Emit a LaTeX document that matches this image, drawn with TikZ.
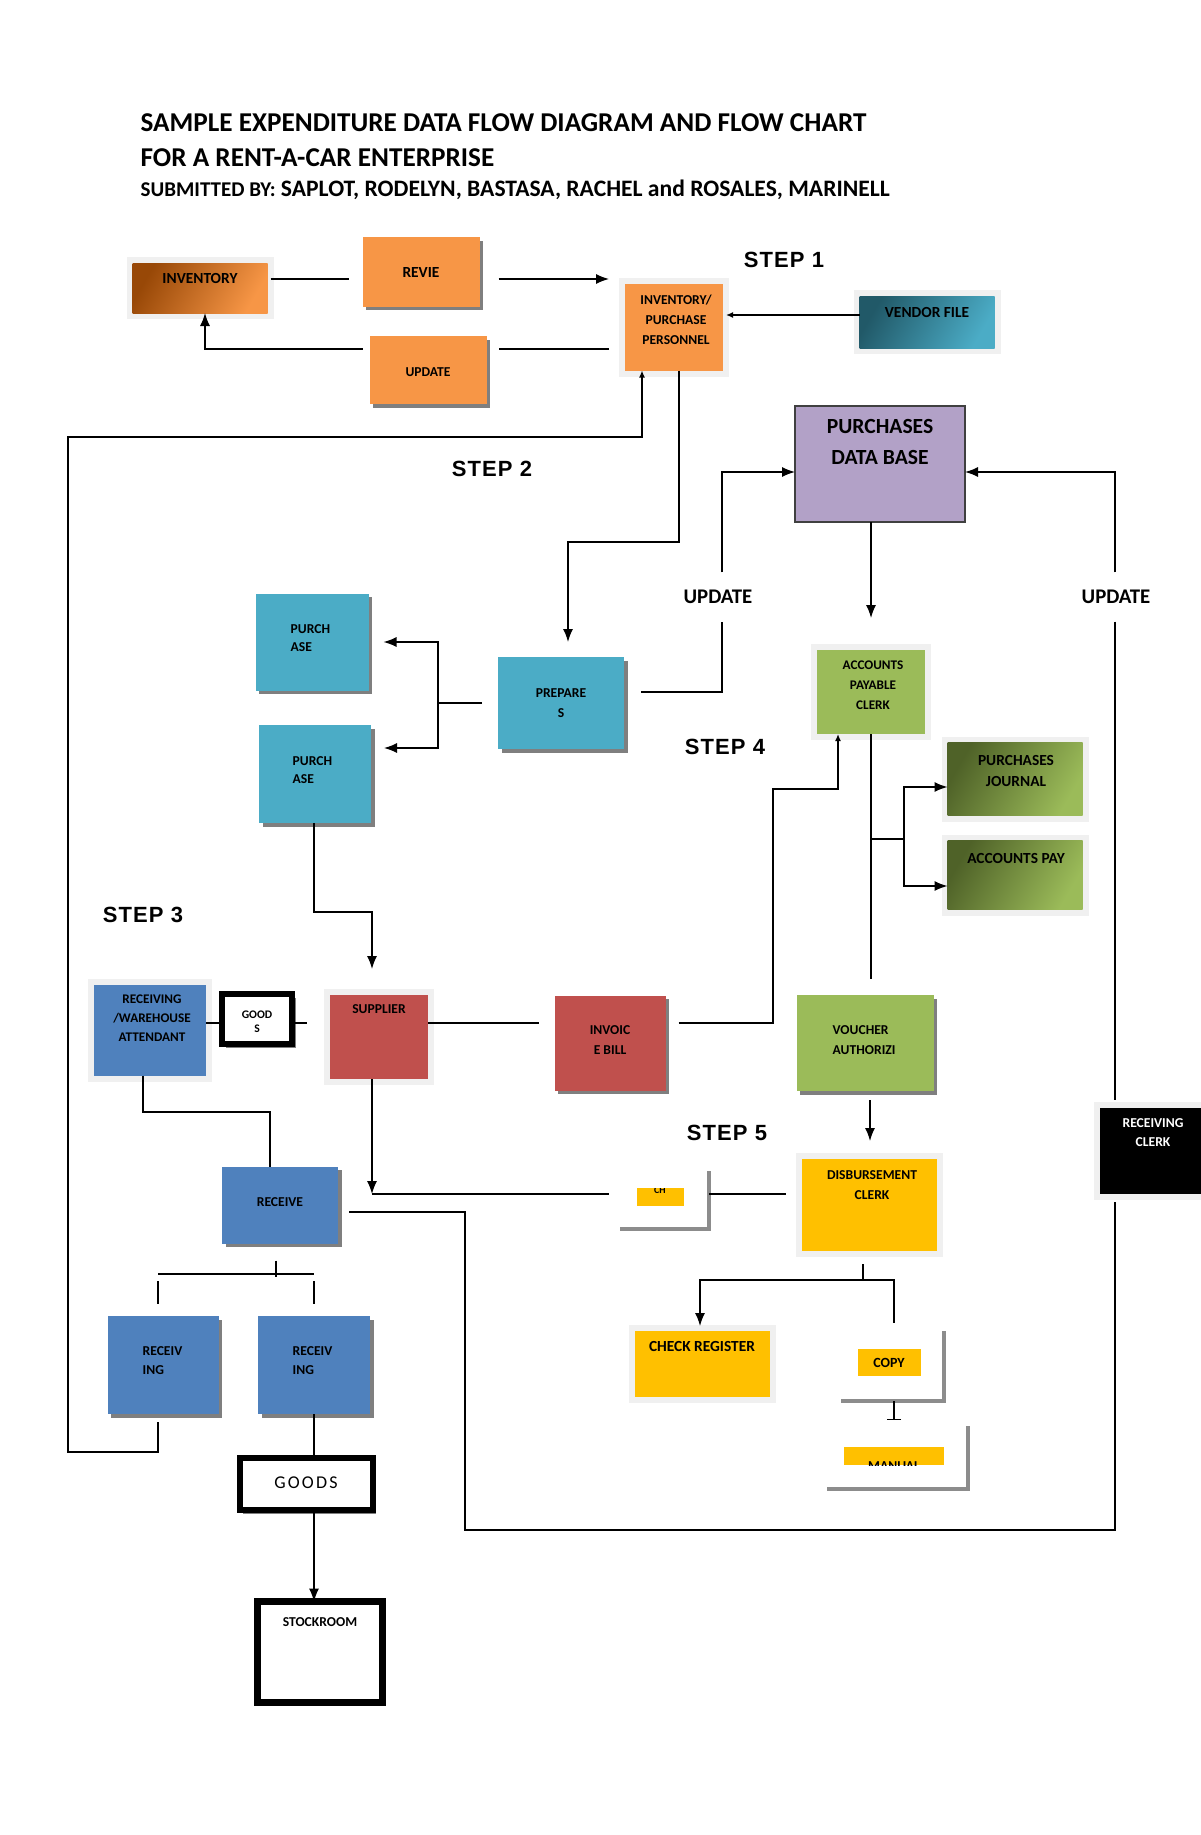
\documentclass[tikz,border=0pt]{standalone}
\usepackage{fontspec}
\setmainfont{Carlito}
\newfontfamily\stepfont[LetterSpace=5]{Liberation Sans}
\newfontfamily\spacedfont[LetterSpace=12]{Carlito}
\usetikzlibrary{shadows,arrows.meta}

\definecolor{orng}{HTML}{F79646}
\definecolor{brwn}{HTML}{984807}
\definecolor{tealb}{HTML}{4BACC6}
\definecolor{tealdk}{HTML}{215968}
\definecolor{purp}{HTML}{B2A1C7}
\definecolor{grn}{HTML}{9BBB59}
\definecolor{grndk}{HTML}{4F6228}
\definecolor{redb}{HTML}{C0504D}
\definecolor{blueb}{HTML}{4F81BD}
\definecolor{yel}{HTML}{FFC000}
\definecolor{shadowgrey}{HTML}{7F7F7F}
\definecolor{framegrey}{HTML}{F0F0F0}
\definecolor{lgrey}{HTML}{8C8C8C}

\begin{document}
\begin{tikzpicture}[
x=0.5pt, y=-0.5pt,
line width=0.7pt,
wh/.style 2 args={minimum width=#1*0.5pt, minimum height=#2*0.5pt},
bx/.style={rectangle, inner sep=0pt, outer sep=0pt},
dshade/.style={drop shadow={shadow xshift=1.8pt, shadow yshift=-1.8pt, fill=shadowgrey, opacity=1}},
framed/.style={preaction={draw=framegrey, line width=6pt}},
heavy/.style={draw=black, line width=2.6pt, fill=white},
txt/.style={inner sep=0pt, align=center, font=\bfseries\fontsize{6.8}{10}\selectfont},
bigtxt/.style={txt, font=\bfseries\fontsize{7.7}{10.5}\selectfont},
titletxt/.style={anchor=base west, inner sep=0pt, font=\bfseries\fontsize{13.6}{16}\selectfont},
steplbl/.style={inner sep=0pt, font=\stepfont\bfseries\fontsize{11}{13}\selectfont},
updlbl/.style={inner sep=0pt, minimum height=24pt, font=\bfseries\fontsize{10.4}{12}\selectfont},
arrowed/.style={-{Latex[length=6.5pt,width=5pt]}},
smallarrow/.style={-{Latex[length=3.5pt,width=3pt]}},
greyL/.style={draw=lgrey, line width=1.8pt}
]
\path[use as bounding box, fill=white] (0,0) rectangle (1200,1835);

% title
\node[titletxt] (title1) at (140,132) {SAMPLE EXPENDITURE DATA FLOW DIAGRAM AND FLOW CHART};
\node[titletxt] (title2) at (140,167) {FOR A RENT-A-CAR ENTERPRISE};
\node[titletxt, font=\bfseries\fontsize{11.8}{16}\selectfont] (title3) at (140,197)
  {{\fontsize{10.5}{12}\selectfont SUBMITTED BY:} SAPLOT, RODELYN, BASTASA, RACHEL and ROSALES, MARINELL};

% step 1
\node[steplbl] (step1) at (784,260) {STEP 1};
\node[bx, wh={135}{50}, framed, top color=brwn, bottom color=orng, shading angle=60] (inv) at (200,288) {};
\node[bigtxt] (invT) at (200,279) {INVENTORY};
\node[bx, wh={117}{69}, fill=orng, dshade] (revie) at (421,272) {};
\node[bigtxt] (revieT) at (421,273) {REVIE};
\node[bx, wh={117}{68}, fill=orng, dshade] (upd) at (428,370) {};
\node[txt] (updT) at (428,372) {UPDATE};
\node[bx, wh={98}{87}, fill=orng, framed] (pers) at (674,327) {};
\node[txt] (persT) at (676,320) {INVENTORY/\\PURCHASE\\PERSONNEL};
\node[bx, wh={135}{52}, framed, top color=tealdk, bottom color=tealb, shading angle=60] (vend) at (927,322) {};
\node[bigtxt] (vendT) at (927,313) {VENDOR FILE};

% step 2
\node[steplbl] (step2) at (492,469) {STEP 2};
\node[bx, wh={170}{116}, fill=purp, draw=black!75, line width=1pt] (pdb) at (880,464) {};
\node[txt, font=\bfseries\fontsize{10.8}{15.5}\selectfont] (pdbT) at (880,442) {PURCHASES\\DATA BASE};
\node[bx, wh={126}{92}, fill=tealb, dshade] (prep) at (561,703) {};
\node[txt] (prepT) at (561,703) {PREPARE\\S};
\node[bx, wh={113}{97}, fill=tealb, dshade] (pur1) at (312,642) {};
\node[txt, align=left, anchor=west, font=\bfseries\fontsize{6.8}{9}\selectfont] (pur1T) at (290,638) {PURCH\\ASE};
\node[bx, wh={112}{98}, fill=tealb, dshade] (pur2) at (315,774) {};
\node[txt, align=left, anchor=west, font=\bfseries\fontsize{6.8}{9}\selectfont] (pur2T) at (292,770) {PURCH\\ASE};
\node[updlbl] (updl) at (718,597) {UPDATE};
\node[updlbl] (updr) at (1116,597) {UPDATE};

% step 3
\node[steplbl] (step3) at (143,915) {STEP 3};
\node[bx, wh={112}{91}, fill=blueb, framed] (rwa) at (150,1030) {};
\node[txt, font=\bfseries\fontsize{6.6}{9.5}\selectfont] (rwaT) at (152,1018) {RECEIVING\\/WAREHOUSE\\ATTENDANT};
\node[bx, wh={70}{50}, heavy, dshade] (goods1) at (257,1019) {};
\node[txt, font=\bfseries\fontsize{5.8}{7}\selectfont] (goods1T) at (257,1022) {GOOD\\S};
\node[bx, wh={98}{84}, fill=redb, framed] (sup) at (379,1037) {};
\node[txt] (supT) at (379,1009) {SUPPLIER};
\node[bx, wh={111}{95}, fill=redb, dshade] (invb) at (610,1043) {};
\node[txt] (invbT) at (610,1040) {INVOIC\\E BILL};
\node[bx, wh={116}{77}, fill=blueb, dshade] (rec) at (280,1205) {};
\node[txt] (recT) at (280,1202) {RECEIVE};
\node[bx, wh={111}{98}, fill=blueb, dshade] (rcv1) at (163,1365) {};
\node[txt, align=left, anchor=west, font=\bfseries\fontsize{6.8}{9.5}\selectfont] (rcv1T) at (142,1361) {RECEIV\\ING};
\node[bx, wh={112}{98}, fill=blueb, dshade] (rcv2) at (314,1365) {};
\node[txt, align=left, anchor=west, font=\bfseries\fontsize{6.8}{9.5}\selectfont] (rcv2T) at (292,1361) {RECEIV\\ING};
\node[bx, wh={133}{52}, heavy, line width=3pt, dshade] (goods) at (306,1484) {};
\node[inner sep=0pt, font=\spacedfont\fontsize{9}{11}\selectfont] (goodsT) at (306,1483) {GOODS};
\node[bx, wh={125}{101}, heavy, line width=3.2pt] (stock) at (320,1652) {};
\node[txt] (stockT) at (320,1622) {STOCKROOM};

% step 4
\node[steplbl] (step4) at (725,747) {STEP 4};
\node[bx, wh={108}{84}, fill=grn, framed] (apc) at (871,692) {};
\node[txt, font=\bfseries\fontsize{6.6}{10}\selectfont] (apcT) at (873,685) {ACCOUNTS\\PAYABLE\\CLERK};
\node[bx, wh={135}{73}, framed, top color=grndk, bottom color=grn, shading angle=60] (pj) at (1015,779) {};
\node[bigtxt] (pjT) at (1016,771) {PURCHASES\\JOURNAL};
\node[bx, wh={135}{69}, framed, top color=grndk, bottom color=grn, shading angle=60] (ap) at (1015,875) {};
\node[bigtxt] (apT) at (1016,858) {ACCOUNTS PAY};
\node[bx, wh={137}{96}, fill=grn, dshade] (vou) at (865,1043) {};
\node[txt, align=left, anchor=west] (vouT) at (832,1040) {VOUCHER\\AUTHORIZI};

% step 5
\node[steplbl] (step5) at (727,1133) {STEP 5};
\node[bx, wh={135}{92}, fill=yel, framed] (disb) at (869,1205) {};
\node[txt] (disbT) at (872,1185) {DISBURSEMENT\\CLERK};
\node[bx, wh={135}{66}, fill=yel, framed] (chk) at (702,1364) {};
\node[bigtxt] (chkT) at (702,1346) {CHECK REGISTER};
\node[bx, wh={63}{27}, fill=yel] (copy) at (889,1362) {};
\node[txt, font=\bfseries\fontsize{7}{9}\selectfont] (copyT) at (889,1363) {COPY};
\node[bx, wh={47}{18}, fill=yel, path picture={
  \node[txt, font=\bfseries\fontsize{5}{6}\selectfont] (smchkT) at ([yshift=3.6pt]path picture bounding box.center) {CH};}] (smchk) at (660,1197) {};
\node[bx, wh={100}{18}, fill=yel, path picture={
  \node[txt] (manT) at ([yshift=-5.2pt]path picture bounding box.center) {MANUAL};}] (man) at (894,1456) {};
\node[bx, wh={110}{86}, fill=black, framed] (rclerk) at (1155,1151) {};
\node[txt, text=white, font=\bfseries\fontsize{6.8}{9.5}\selectfont] (rclerkT) at (1153,1133) {RECEIVING\\CLERK};

% grey corners
\draw[greyL] (709,1171) -- (709,1229) -- (620,1229);
\draw[greyL] (944,1331) -- (944,1401) -- (841,1401);
\draw[greyL] (968,1426) -- (968,1489) -- (827,1489);

\coordinate (prepsplit) at (438,703);
\coordinate (apsplit) at (871,839);
\coordinate (retpt) at (372,1194);
\coordinate (retend) at (609,1194);
\coordinate (smL) at (709,1194);
\coordinate (dsplit) at (863,1280);

% step 1 lines
\draw[shorten <=1.5pt, shorten >=7pt] (inv.east |- 0,279) -- (revie.west |- 0,279);
\draw[arrowed, shorten <=9.5pt, shorten >=8pt] (revie.east |- 0,279) -- (pers.west |- 0,279);
\draw[shorten <=8pt, shorten >=6pt] (pers.west |- 0,349) -- (upd.east |- 0,349);
\draw[arrowed, shorten <=3.5pt] (upd.west |- 0,349) -| (inv.south -| 205,0);
\draw[smallarrow, shorten >=1.5pt] (vend.west |- 0,315) -- (pers.east |- 0,315);
\draw[smallarrow, shorten <=4pt] (rcv1.south -| 158,0) |- (68,1452) |- (642,437) -- (pers.south -| 642,0);
\draw[arrowed, shorten >=7.5pt] (pers.south -| 679,0) |- (568,542) -- (prep.north -| 568,0);

% step 2 lines
\draw[shorten <=8pt] (prep.west) -- (prepsplit);
\draw[arrowed, shorten >=7.5pt] (prepsplit) |- (pur1.east |- 0,642);
\draw[arrowed, shorten >=6.5pt] (prepsplit) |- (pur2.east |- 0,748);
\draw[arrowed, shorten >=13pt] (pur2.south -| 314,0) |- (372,912) -- (sup.north -| 372,0);
\draw[shorten <=8.5pt] (prep.east |- 0,692) -| (updl.south -| 722,0);
\draw[arrowed] (updl.north -| 722,0) |- (pdb.west |- 0,472);
\draw[arrowed] (updr.north -| 1115,0) |- (pdb.east |- 0,472);
\draw[shorten >=4pt] (updr.south -| 1115,0) -- (rclerk.north -| 1115,0);
\draw[shorten <=4pt, shorten >=5.5pt] (rclerk.south -| 1115,0) |- (465,1530) |- (rec.east |- 0,1212);
\draw[arrowed, shorten >=16pt] (pdb.south -| apc.north) -- (apc.north);

% step 3 lines
\draw (rwa.east |- 0,1023) -- (goods1.west |- 0,1023);
\draw[shorten >=11.5pt] (goods1.east |- 0,1023) -- (sup.west |- 0,1023);
\draw[shorten >=8pt] (sup.east |- 0,1023) -- (invb.west |- 0,1023);
\draw[smallarrow, shorten <=6.5pt] (invb.east |- 0,1023) -| (773,789) -| (apc.south -| 838,0);
\draw (rwa.south -| 143,0) |- (270,1112) -- (rec.north -| 270,0);
\draw[shorten <=8.5pt] (rec.south -| 276,0) -- (276,1277);
\draw (158,1274) -- (314,1274);
\draw[shorten >=6pt] (158,1281) -- (rcv1.north -| 158,0);
\draw[shorten >=6pt] (314,1281) -- (rcv2.north -| 314,0);
\draw (rcv2.south -| 314,0) -- (goods.north -| 314,0);
\draw[arrowed] (goods.south -| 314,0) -- (stock.north -| 314,0);

% step 4 lines
\draw[shorten >=8pt] (apc.south) -- (vou.north -| apc.south);
\draw[arrowed] (apsplit) -| (904,787) -- (pj.west |- 0,787);
\draw[arrowed] (apsplit) -| (904,886) -- (ap.west |- 0,886);

% step 5 lines
\draw[arrowed, shorten <=4.5pt, shorten >=9pt] (vou.south -| 870,0) -- (disb.north -| 870,0);
\draw[shorten <=8pt] (disb.west |- 0,1194) -- (smL);
\draw[arrowed] (sup.south -| retpt) -- (retpt);
\draw (retpt) -- (retend);
\draw[shorten <=6.5pt] (disb.south -| dsplit) -- (dsplit);
\draw[arrowed, shorten >=2.5pt] (dsplit) -| (chk.north -| 700,0);
\draw (dsplit) -| (894,1323);
\draw[-{Bar[width=7pt]}] (894,1401) -- (894,1420);
\end{tikzpicture}
\end{document}
